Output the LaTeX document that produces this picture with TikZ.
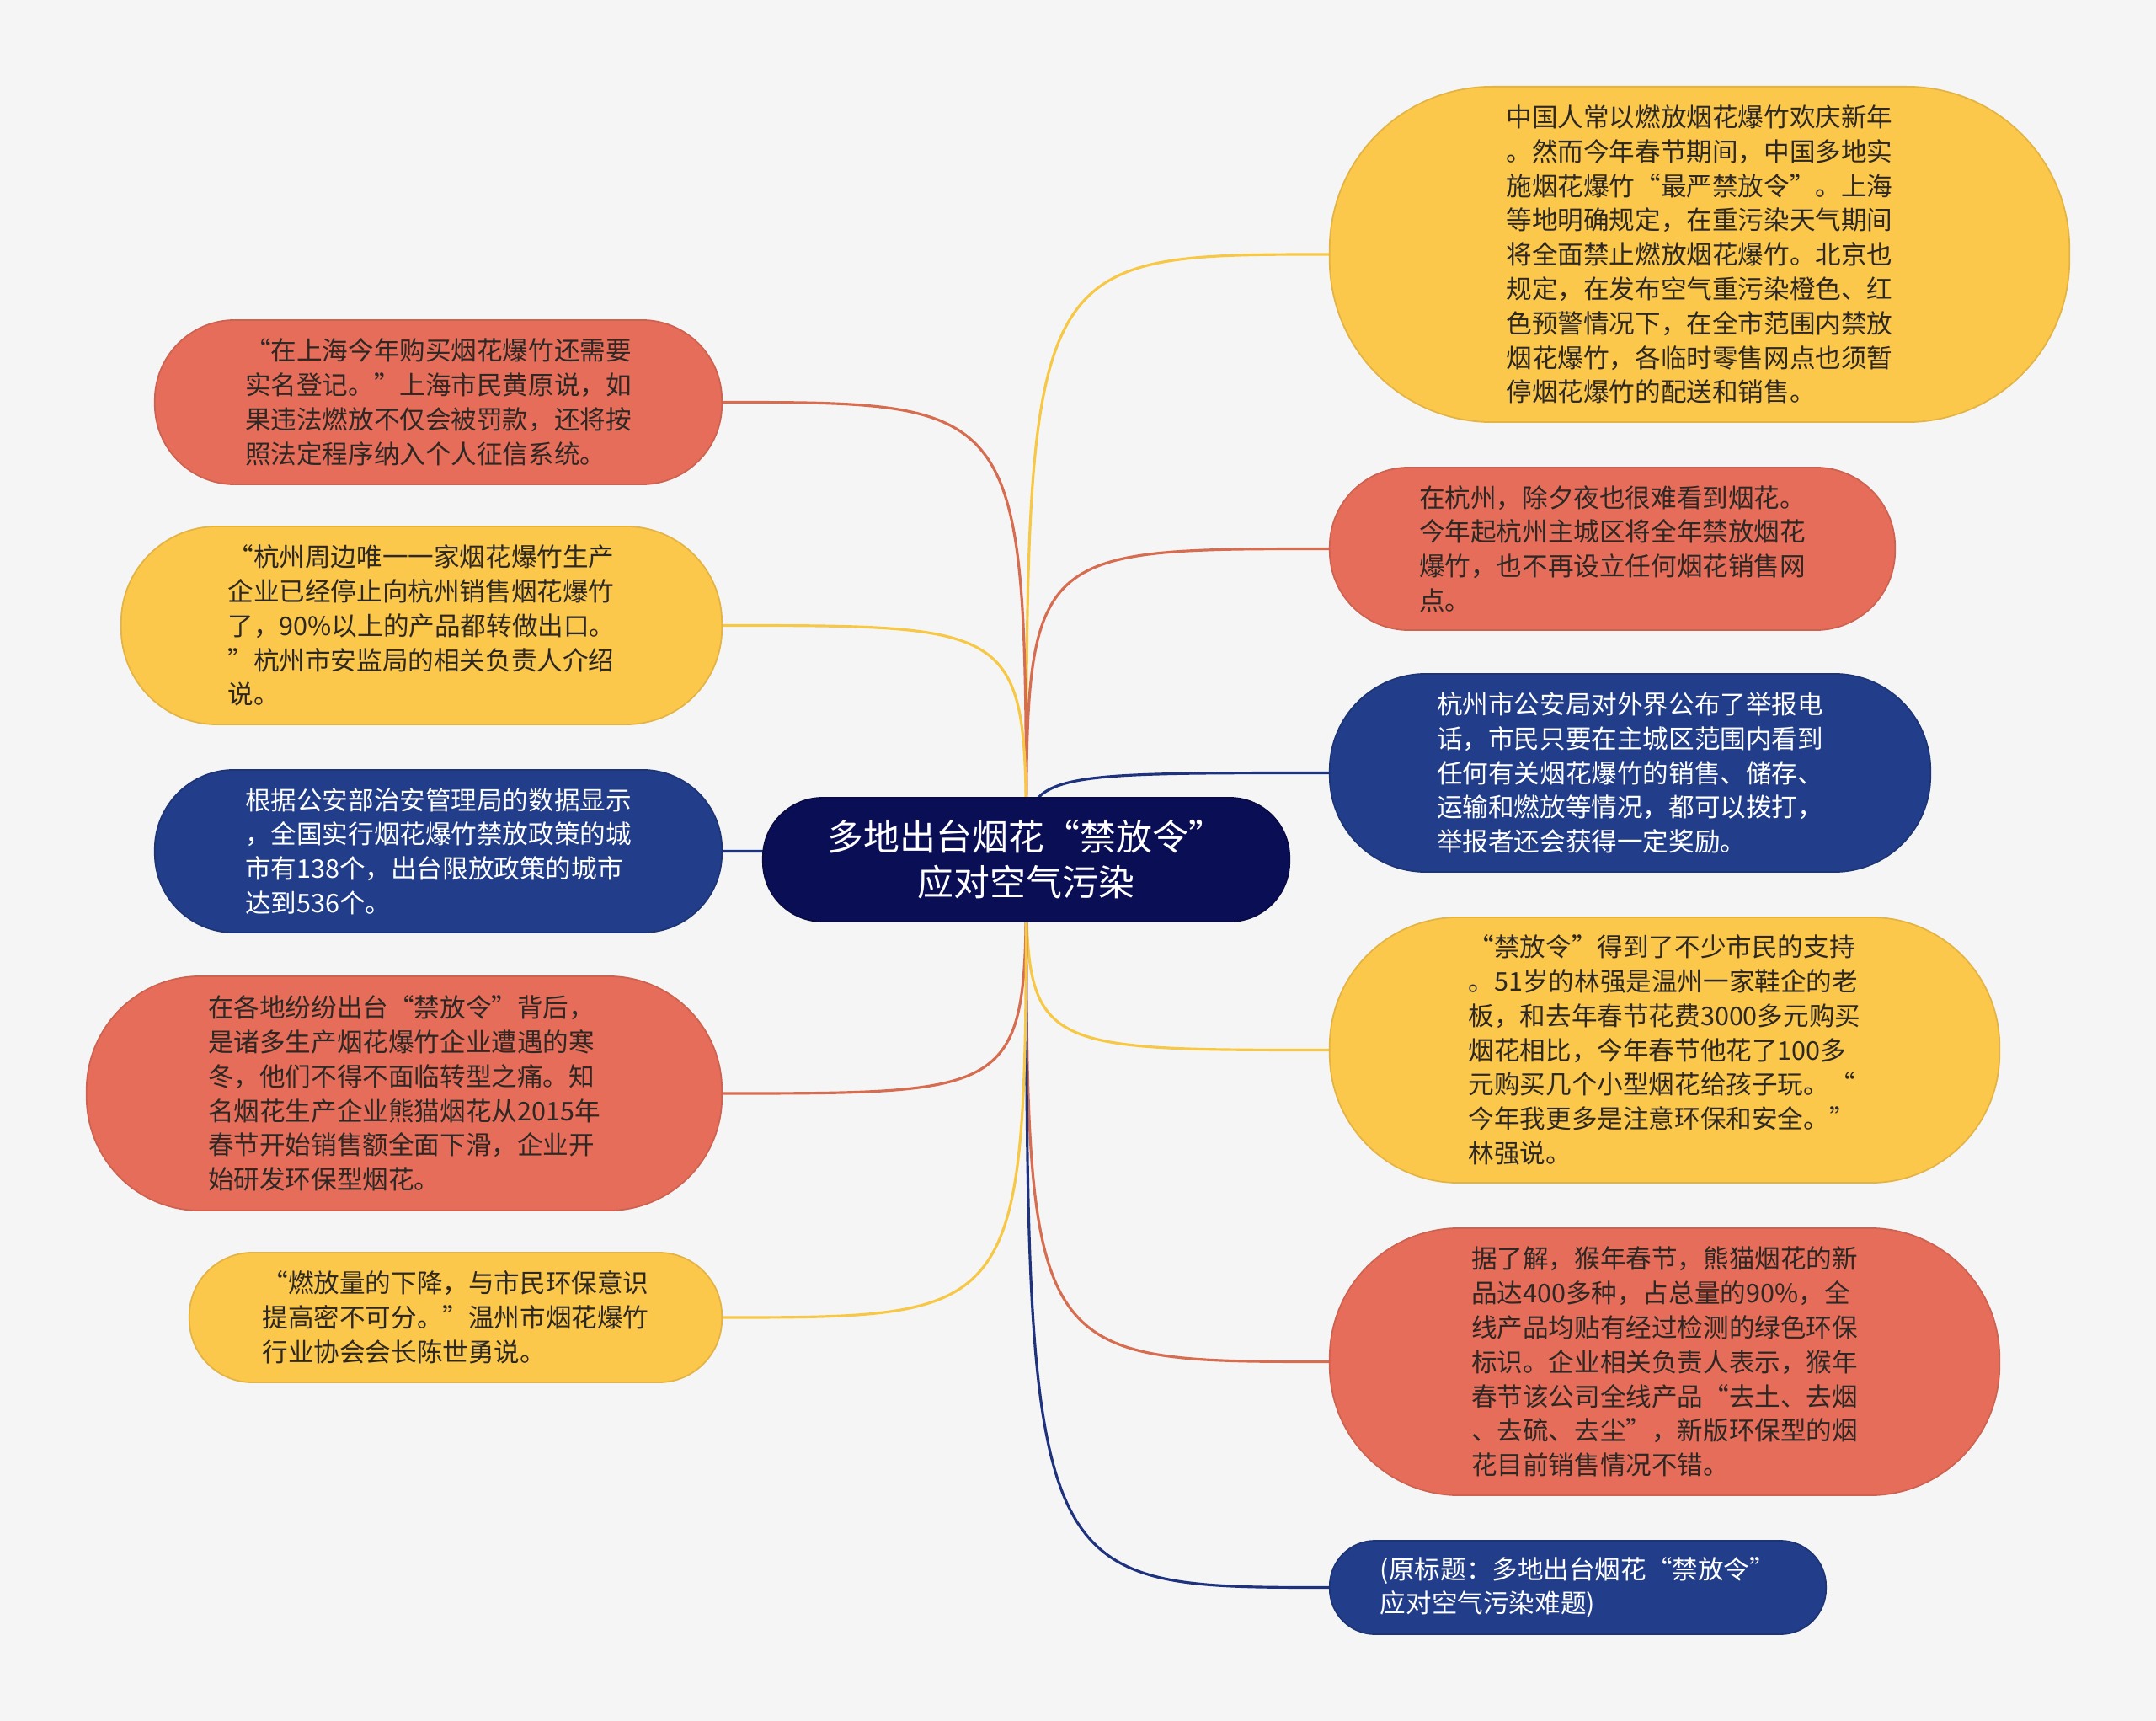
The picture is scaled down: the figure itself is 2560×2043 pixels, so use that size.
\documentclass[tikz,border=0pt]{standalone}
\usepackage{fontspec}
\newfontfamily\cjk{Noto Sans CJK SC}
\usetikzlibrary{backgrounds}
\definecolor{bgc}{RGB}{245,245,245}
\definecolor{yfill}{RGB}{252,200,76}
\definecolor{rfill}{RGB}{229,109,90}
\definecolor{bfill}{RGB}{34,62,138}
\definecolor{nfill}{RGB}{10,14,85}
\definecolor{yline}{RGB}{247,200,70}
\definecolor{rline}{RGB}{214,108,80}
\definecolor{bline}{RGB}{30,50,125}
\definecolor{dtext}{RGB}{46,40,36}
\tikzset{
  basebox/.style={inner sep=0pt, align=left, font=\cjk\fontsize{8.7}{11.6}\selectfont},
  ybox/.style={basebox, fill=yfill, draw=yfill!90!black, line width=0.5pt, text=dtext},
  rbox/.style={basebox, fill=rfill, draw=rfill!90!black, line width=0.5pt, text=dtext},
  bbox/.style={basebox, fill=bfill, draw=bfill!85!black, line width=0.5pt, text=white},
  centerbox/.style={inner sep=0pt, align=center, fill=nfill, draw=nfill!80!black, line width=0.5pt, text=white, font=\cjk\fontsize{12.2}{15.3}\selectfont},
  conn/.style={line width=0.9pt, draw=#1}
}
\begin{document}
\begin{tikzpicture}[x=0.01cm,y=-0.01cm]
\useasboundingbox (0,0) rectangle (2560,2043);

\node[centerbox, minimum width=6.25cm, minimum height=1.47cm, rounded corners=0.71cm] (C) at (1218.5,1020.5) {多地出台烟花“禁放令”\\应对空气污染};

\node[ybox, minimum width=8.78cm, minimum height=3.98cm, rounded corners=1.93cm] (R1) at (2018,302) {中国人常以燃放烟花爆竹欢庆新年\\。然而今年春节期间，中国多地实\\施烟花爆竹“最严禁放令”。上海\\等地明确规定，在重污染天气期间\\将全面禁止燃放烟花爆竹。北京也\\规定，在发布空气重污染橙色、红\\色预警情况下，在全市范围内禁放\\烟花爆竹，各临时零售网点也须暂\\停烟花爆竹的配送和销售。};

\node[rbox, minimum width=6.71cm, minimum height=1.93cm, rounded corners=0.94cm] (R2) at (1914.5,651.5) {在杭州，除夕夜也很难看到烟花。\\今年起杭州主城区将全年禁放烟花\\爆竹，也不再设立任何烟花销售网\\点。};

\node[bbox, minimum width=7.13cm, minimum height=2.35cm, rounded corners=1.14cm] (R3) at (1935.5,917.5) {杭州市公安局对外界公布了举报电\\话，市民只要在主城区范围内看到\\任何有关烟花爆竹的销售、储存、\\运输和燃放等情况，都可以拨打，\\举报者还会获得一定奖励。};

\node[ybox, minimum width=7.95cm, minimum height=3.15cm, rounded corners=1.53cm] (R4) at (1976.5,1246.5) {“禁放令”得到了不少市民的支持\\。51岁的林强是温州一家鞋企的老\\板，和去年春节花费3000多元购买\\烟花相比，今年春节他花了100多\\元购买几个小型烟花给孩子玩。“\\今年我更多是注意环保和安全。”\\林强说。};

\node[rbox, minimum width=7.95cm, minimum height=3.17cm, rounded corners=1.54cm] (R5) at (1976.5,1616.5) {据了解，猴年春节，熊猫烟花的新\\品达400多种，占总量的90\%，全\\线产品均贴有经过检测的绿色环保\\标识。企业相关负责人表示，猴年\\春节该公司全线产品“去土、去烟\\、去硫、去尘”，新版环保型的烟\\花目前销售情况不错。};

\node[bbox, minimum width=5.89cm, minimum height=1.11cm, rounded corners=0.54cm] (R6) at (1873.5,1884.5) {(原标题：多地出台烟花“禁放令”\\应对空气污染难题)};

\node[rbox, minimum width=6.73cm, minimum height=1.95cm, rounded corners=0.95cm] (L1) at (520.5,477.5) {“在上海今年购买烟花爆竹还需要\\实名登记。”上海市民黄原说，如\\果违法燃放不仅会被罚款，还将按\\照法定程序纳入个人征信系统。};

\node[ybox, minimum width=7.13cm, minimum height=2.35cm, rounded corners=1.14cm] (L2) at (500.5,742.5) {“杭州周边唯一一家烟花爆竹生产\\企业已经停止向杭州销售烟花爆竹\\了，90\%以上的产品都转做出口。\\”杭州市安监局的相关负责人介绍\\说。};

\node[bbox, minimum width=6.73cm, minimum height=1.93cm, rounded corners=0.94cm] (L3) at (520.5,1010.5) {根据公安部治安管理局的数据显示\\，全国实行烟花爆竹禁放政策的城\\市有138个，出台限放政策的城市\\达到536个。};

\node[rbox, minimum width=7.54cm, minimum height=2.78cm, rounded corners=1.35cm] (L4) at (480,1298) {在各地纷纷出台“禁放令”背后，\\是诸多生产烟花爆竹企业遭遇的寒\\冬，他们不得不面临转型之痛。知\\名烟花生产企业熊猫烟花从2015年\\春节开始销售额全面下滑，企业开\\始研发环保型烟花。};

\node[ybox, minimum width=6.32cm, minimum height=1.54cm, rounded corners=0.75cm] (L5) at (541,1564) {“燃放量的下降，与市民环保意识\\提高密不可分。”温州市烟花爆竹\\行业协会会长陈世勇说。};

\begin{pgfonlayer}{background}
\fill[bgc] (0,0) rectangle (2560,2043);
\draw[conn=yline] (C.center) .. controls (C.center |- R1.west) .. (R1.west);
\draw[conn=rline] (C.center) .. controls (C.center |- R2.west) .. (R2.west);
\draw[conn=bline] (C.center) .. controls (C.center |- R3.west) .. (R3.west);
\draw[conn=yline] (C.center) .. controls (C.center |- R4.west) .. (R4.west);
\draw[conn=rline] (C.center) .. controls (C.center |- R5.west) .. (R5.west);
\draw[conn=bline] (C.center) .. controls (C.center |- R6.west) .. (R6.west);
\draw[conn=rline] (C.center) .. controls (C.center |- L1.east) .. (L1.east);
\draw[conn=yline] (C.center) .. controls (C.center |- L2.east) .. (L2.east);
\draw[conn=bline] (C.center) .. controls (C.center |- L3.east) .. (L3.east);
\draw[conn=rline] (C.center) .. controls (C.center |- L4.east) .. (L4.east);
\draw[conn=yline] (C.center) .. controls (C.center |- L5.east) .. (L5.east);
\end{pgfonlayer}
\end{tikzpicture}
\end{document}
